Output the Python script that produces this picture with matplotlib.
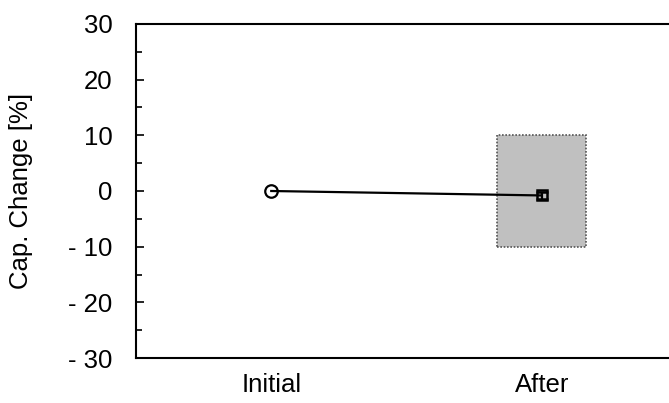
import matplotlib.pyplot as plt
from matplotlib.patches import Rectangle

plt.rcParams['font.family'] = ['Liberation Sans', 'DejaVu Sans']

stages = ['Initial', 'After']
cap_change = [0.0, -0.8]
cap_err = [0.0, 0.6]
spec_low, spec_high = -10, 10
y_ticks = [30, 20, 10, 0, -10, -20, -30]
y_labels = ['30', '20', '10', '0', '- 10', '- 20', '- 30']

fig = plt.figure(figsize=(6.69, 4.03), dpi=100)
ax = fig.add_axes([136 / 669, 45 / 403, 541 / 669, 334 / 403])

# spec window around the "After" point
ax.add_patch(Rectangle((1 - 0.165, spec_low), 0.33, spec_high - spec_low,
                       facecolor='#c0c0c0', edgecolor='#555555',
                       linestyle=(0, (1, 1)), linewidth=1.2, zorder=1))

x = list(range(len(stages)))
ax.plot(x, cap_change, color='black', linewidth=1.6, zorder=2)
ax.plot(x[0], cap_change[0], marker='o', markersize=9, markerfacecolor='none',
        markeredgecolor='black', markeredgewidth=1.6, linestyle='none', zorder=3)
ax.errorbar(x[1], cap_change[1], yerr=cap_err[1], marker='s', markersize=7,
            markerfacecolor='none', markeredgecolor='black', markeredgewidth=1.8,
            ecolor='black', elinewidth=1.6, capsize=4.5, capthick=2,
            linestyle='none', zorder=3)

ax.set_xlim(-0.5, 1.5)
ax.set_ylim(-30, 30)
ax.set_xticks(x)
ax.set_xticklabels(stages, fontsize=18.5)
ax.set_yticks(y_ticks)
ax.set_yticks(range(-25, 30, 10), minor=True)
ax.set_yticklabels(y_labels, fontsize=18.5)
ax.tick_params(axis='y', which='both', direction='in', width=1.2, pad=17)
ax.tick_params(axis='y', which='major', length=6)
ax.tick_params(axis='y', which='minor', length=4)
ax.tick_params(axis='x', length=0, pad=11)
ax.set_ylabel('Cap. Change [%]', fontsize=18.5)
ax.yaxis.set_label_coords(-0.19, 0.5)
for side in ['left', 'top', 'bottom', 'right']:
    ax.spines[side].set_linewidth(1.5)

fig.savefig('out.png', dpi=100)
